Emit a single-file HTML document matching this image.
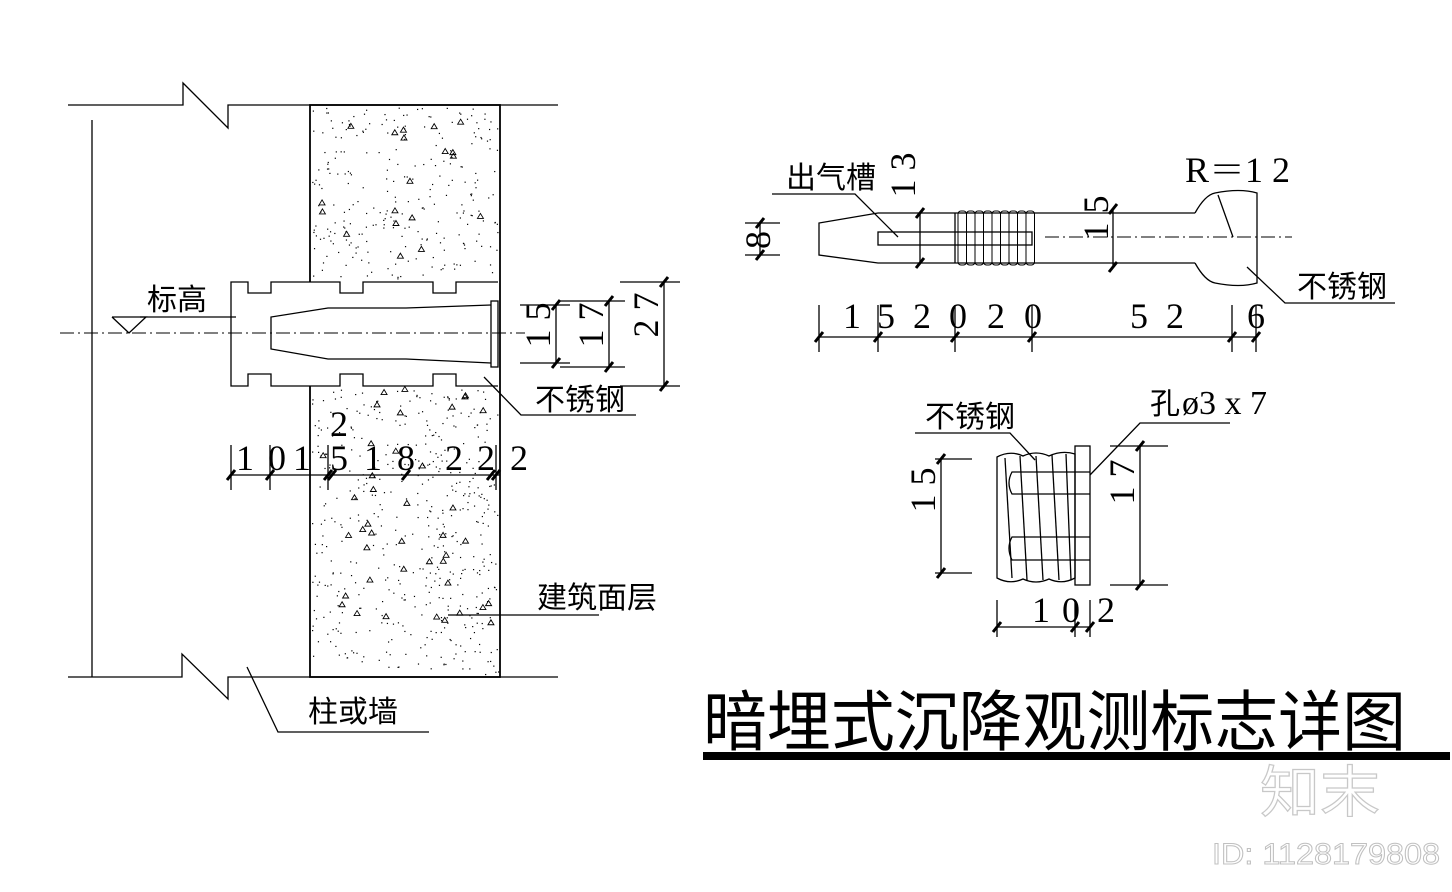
<!DOCTYPE html>
<html><head><meta charset="utf-8"><style>
html,body{margin:0;padding:0;background:#fff;}
svg{display:block;}
text{font-family:"Liberation Serif","Noto Serif CJK SC","Noto Sans CJK SC",serif;fill:#000;}
.cj{font-family:"Liberation Sans","Noto Sans CJK SC",sans-serif;}
</style></head><body>
<svg id="s" width="1452" height="892" viewBox="0 0 1452 892" xmlns="http://www.w3.org/2000/svg">
<g fill="none" stroke="#000" stroke-width="1.3">
<polyline points="68,105 183,105 183,83 228,128 228,105 558,105"/>
<polyline points="68,677 182,677 182,654 228,699 228,677 558,677"/>
<line x1="92" y1="120" x2="92" y2="677"/>
<rect x="310" y="105" width="190" height="572" stroke-width="1.8"/>
<polyline fill="#fff" points="498,282 456,282 456,293 433,293 433,282 363,282 363,293 340,293 340,282 271,282 271,293 248,293 248,282 231,282 231,386 248,386 248,374 271,374 271,386 340,386 340,374 363,374 363,386 433,386 433,374 456,374 456,386 498,386"/>
<polyline points="491,305 406,308 328,308 271,317 271,349 328,359 406,359 491,363"/>
<rect x="491" y="301" width="7" height="66"/>
<line x1="140" y1="317" x2="236" y2="317"/>
<polyline points="112,317 146,317 129,333 112,317"/>
<line x1="60" y1="333" x2="525" y2="333" stroke-dasharray="14,4,2,4" stroke-width="1"/>
<polyline points="484,377 521,415 636,415"/>
<line x1="556" y1="305" x2="556" y2="363"/><line x1="520" y1="305" x2="570" y2="305"/><line x1="520" y1="363" x2="570" y2="363"/>
<line x1="609" y1="301" x2="609" y2="367"/><line x1="560" y1="301" x2="625" y2="301"/><line x1="560" y1="367" x2="625" y2="367"/>
<line x1="664" y1="282" x2="664" y2="386"/><line x1="620" y1="282" x2="680" y2="282"/><line x1="620" y1="386" x2="680" y2="386"/>
<line x1="231" y1="475" x2="500" y2="475"/>
<line x1="231" y1="445" x2="231" y2="490"/><line x1="270" y1="445" x2="270" y2="490"/><line x1="328" y1="445" x2="328" y2="490"/><line x1="496" y1="445" x2="496" y2="490"/>
<polyline points="247,667 278,732 429,732"/>
<line x1="448" y1="615" x2="599" y2="615"/>
<polyline points="1195,213 878,213 819,223 819,255 878,263 1195,263"/>
<path d="M1195,213 Q1205,195 1215,193 Q1240,188 1257,193 L1257,283 Q1240,288 1215,283 Q1205,281 1195,263"/>
<rect x="878" y="232" width="154" height="13"/>
<line x1="955" y1="213" x2="955" y2="263"/>
<g id="ribs"></g>
<line x1="1045" y1="237" x2="1292" y2="237" stroke-dasharray="14,4,2,4" stroke-width="1"/>
<polyline points="772,194 855,194 898,237"/>
<line x1="1218" y1="195" x2="1233" y2="237"/>
<polyline points="1247,267 1285,303 1395,303"/>
<line x1="760" y1="223" x2="760" y2="255"/><line x1="745" y1="223" x2="780" y2="223"/><line x1="745" y1="255" x2="780" y2="255"/>
<line x1="920" y1="213" x2="920" y2="263"/>
<line x1="1113" y1="209" x2="1113" y2="267"/>
<line x1="819" y1="337" x2="1256" y2="337"/>
<line x1="819" y1="305" x2="819" y2="352"/><line x1="878" y1="305" x2="878" y2="352"/><line x1="955" y1="305" x2="955" y2="352"/><line x1="1032" y1="305" x2="1032" y2="352"/><line x1="1232" y1="305" x2="1232" y2="352"/><line x1="1256" y1="305" x2="1256" y2="352"/>
<rect x="1075" y="446" width="15" height="139"/>
<path d="M997,457 Q1010,450 1023,456 Q1036,450 1049,456 Q1062,450 1075,454 L1075,578 Q1062,585 1049,579 Q1036,585 1023,579 Q1010,585 997,578 Z"/>
<line x1="1005" y1="458" x2="1012" y2="578"/><line x1="1020" y1="456" x2="1027" y2="580"/><line x1="1036" y1="456" x2="1043" y2="580"/><line x1="1052" y1="455" x2="1059" y2="580"/><line x1="1066" y1="454" x2="1071" y2="580"/>
<path d="M1090,472 L1012,472 Q1006,483 1012,494 L1090,494"/>
<path d="M1090,537 L1012,537 Q1006,548 1012,560 L1090,560"/>
<line x1="941" y1="459" x2="941" y2="573"/><line x1="935" y1="459" x2="972" y2="459"/><line x1="935" y1="573" x2="972" y2="573"/>
<line x1="1140" y1="446" x2="1140" y2="585"/><line x1="1110" y1="446" x2="1168" y2="446"/><line x1="1110" y1="585" x2="1168" y2="585"/>
<line x1="997" y1="627" x2="1090" y2="627"/><line x1="997" y1="600" x2="997" y2="637"/><line x1="1075" y1="600" x2="1075" y2="637"/><line x1="1090" y1="600" x2="1090" y2="637"/>
<polyline points="915,433 1010,433 1035,460"/>
<polyline points="1230,423 1140,423 1090,475"/>
</g>
<g id="ticks" stroke="#000" stroke-width="3"></g>
<g id="dots"></g>
<text class="cj" x="147" y="310" font-size="30">标高</text>
<text class="cj" x="535" y="410" font-size="30">不锈钢</text>
<text class="cj" x="537" y="608" font-size="30">建筑面层</text>
<text class="cj" x="308" y="722" font-size="30">柱或墙</text>
<text class="cj" x="786" y="188" font-size="30">出气槽</text>
<text class="cj" x="1297" y="297" font-size="30">不锈钢</text>
<text class="cj" x="925" y="427" font-size="30">不锈钢</text>
<text class="cj" x="1150" y="414" font-size="30">孔</text>
<text x="1182" y="414" font-size="34">ø3 x 7</text>
<text x="1185" y="182" font-size="36">R＝1 2</text>
<g font-size="36">
<text x="236" y="470">1</text><text x="268" y="470">0</text><text x="293" y="470">1</text><text x="330" y="470">5</text><text x="364" y="470">1</text><text x="397" y="470">8</text><text x="445" y="470">2</text><text x="477" y="470">2</text><text x="510" y="470">2</text>
<text x="330" y="436">2</text>
<text x="843" y="328">1</text><text x="877" y="328">5</text><text x="913" y="328">2</text><text x="949" y="328">0</text><text x="987" y="328">2</text><text x="1024" y="328">0</text>
<text x="1130" y="328">5</text><text x="1166" y="328">2</text><text x="1247" y="328">6</text>
<text x="1032" y="622">1</text><text x="1062" y="622">0</text><text x="1097" y="622">2</text>
<text transform="translate(550,325) rotate(-90)" text-anchor="middle">1  5</text>
<text transform="translate(603,325) rotate(-90)" text-anchor="middle">1  7</text>
<text transform="translate(658,315) rotate(-90)" text-anchor="middle">2  7</text>
<text transform="translate(770,240) rotate(-90)" text-anchor="middle">8</text>
<text transform="translate(915,175) rotate(-90)" text-anchor="middle">1  3</text>
<text transform="translate(1108,218) rotate(-90)" text-anchor="middle">1    5</text>
<text transform="translate(935,490) rotate(-90)" text-anchor="middle">1  5</text>
<text transform="translate(1134,482) rotate(-90)" text-anchor="middle">1  7</text>
</g>
<text class="cj" x="703" y="745" font-size="66" textLength="703" lengthAdjust="spacingAndGlyphs">暗埋式沉降观测标志详图</text>
<rect x="703" y="752" width="747" height="8" fill="#000"/>
<text class="cj" x="1260" y="812" font-size="56" style="fill:none;stroke:#c8c8c8;stroke-width:1.2" textLength="120" lengthAdjust="spacingAndGlyphs">知末</text>
<text x="1212" y="864" font-size="30" style="font-family:'Liberation Sans',sans-serif;fill:none;stroke:#c0c0c0;stroke-width:1" textLength="228" lengthAdjust="spacingAndGlyphs">ID: 1128179808</text>
</svg>
<script>
var NS="http://www.w3.org/2000/svg";
function el(p,t,a){var e=document.createElementNS(NS,t);for(var k in a)e.setAttribute(k,a[k]);p.appendChild(e);return e;}
var tk=document.getElementById('ticks');
function tick(x,y){el(tk,'line',{x1:x-4,y1:y+5,x2:x+4,y2:y-5});}
[[231,475],[270,475],[328,475],[332,475],[406,475],[491,475],[496,475],
[556,305],[556,363],[609,301],[609,367],[664,282],[664,386],
[760,223],[760,255],[920,213],[920,263],[1113,209],[1113,267],
[819,337],[878,337],[955,337],[1032,337],[1232,337],[1256,337],
[941,459],[941,573],[1140,446],[1140,585],[997,627],[1075,627],[1090,627]].forEach(function(p){tick(p[0],p[1]);});
var r=document.getElementById('ribs');
for(var i=0;i<9;i++){var x=958+i*8.5;el(r,'rect',{x:x,y:211,width:8.5,height:54,rx:3,fill:'none',stroke:'#000','stroke-width':1});}
var d=document.getElementById('dots');var s=7;function rnd(){s=(s*16807)%2147483647;return s/2147483647;}
function inAnchor(x,y){return x<500&&y>279&&y<389;}
for(var i=0;i<900;i++){var x=312+rnd()*186,y=107+rnd()*568;if(inAnchor(x,y))continue;el(d,'rect',{x:x,y:y,width:1.2,height:1.2,fill:'#000'});}
for(var i=0;i<70;i++){var x=318+rnd()*172,y=112+rnd()*556;if(inAnchor(x,y+5))continue;el(d,'path',{d:'M'+x+','+y+' l3,-5 l3,5 z',fill:'none',stroke:'#000','stroke-width':0.9});}
</script>
</body></html>
